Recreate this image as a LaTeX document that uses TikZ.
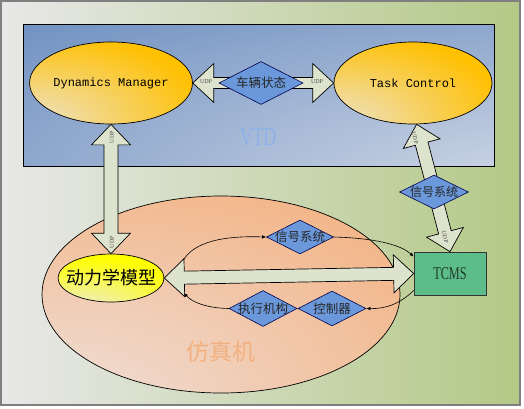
\documentclass[tikz,border=0pt]{standalone}
\usepackage{fontspec}
\setmainfont{Liberation Serif}
\newfontfamily\cjk{Noto Sans CJK SC}
\newfontfamily\monof{Liberation Mono}
\newfontfamily\condf[FakeStretch=0.68]{Liberation Serif}
\usetikzlibrary{shapes.geometric,arrows.meta,calc}
\definecolor{bgL}{HTML}{E8E8E8}
\definecolor{bgR}{HTML}{B3C986}
\definecolor{frameC}{HTML}{7F7F7F}
\definecolor{vtdA}{HTML}{6C8EC0}
\definecolor{vtdB}{HTML}{E6E8EE}
\definecolor{orgA}{HTML}{FFC000}
\definecolor{orgB}{HTML}{EDE3CA}
\definecolor{simA}{HTML}{F4AD78}
\definecolor{simB}{HTML}{EFDDD4}
\definecolor{yelA}{HTML}{FFFF00}
\definecolor{yelB}{HTML}{EEEDC8}
\definecolor{dia}{HTML}{6A98DA}
\definecolor{arr}{HTML}{DEE3CD}
\definecolor{vtdtxt}{HTML}{8CB2EA}
\definecolor{simtxt}{HTML}{F3B07E}
\definecolor{tcmsfill}{HTML}{5CBC8A}
\definecolor{tcmstxt}{HTML}{1E3C28}
\pgfdeclareradialshading{orgrad}{\pgfpoint{-31bp}{-30bp}}{color(0bp)=(orgB); color(6bp)=(orgB); color(48bp)=(orgA); color(120bp)=(orgA)}
\pgfdeclareradialshading{simrad}{\pgfpoint{-28bp}{-34bp}}{color(0bp)=(simB); color(8bp)=(simB); color(62bp)=(simA); color(130bp)=(simA)}
\pgfdeclareradialshading{yelrad}{\pgfpoint{-15bp}{-38bp}}{color(0bp)=(yelB); color(6bp)=(yelB); color(45bp)=(yelA); color(120bp)=(yelA)}
\pgfdeclareradialshading{vtdrad}{\pgfpoint{50bp}{-50bp}}{color(0bp)=(vtdB); color(6bp)=(vtdB); color(75bp)=(vtdA); color(150bp)=(vtdA)}
\newcommand\ctext[1]{\makebox[0pt]{\smash{\raisebox{-0.38em}{#1}}}}
\newcommand\dblArrowShape[6][]{%
  \draw[arrbody,#1] (#2)
   -- ($(#2)!#6!(#3)!#5!90:(#3)$)
   -- ($(#2)!#6!(#3)!#4!90:(#3)$)
   -- ($(#3)!#6!(#2)!#4!-90:(#2)$)
   -- ($(#3)!#6!(#2)!#5!-90:(#2)$)
   -- (#3)
   -- ($(#3)!#6!(#2)!#5!90:(#2)$)
   -- ($(#3)!#6!(#2)!#4!90:(#2)$)
   -- ($(#2)!#6!(#3)!#4!-90:(#3)$)
   -- ($(#2)!#6!(#3)!#5!-90:(#3)$)
   -- cycle;}
\begin{document}
\begin{tikzpicture}[x=1pt,y=-1pt,
  framebox/.style={rectangle, draw=frameC, line width=1.2pt, left color=bgL, right color=bgR,
    minimum width=519pt, minimum height=404pt, inner sep=0pt},
  vtdbox/.style={rectangle, draw=black, line width=0.7pt, shade, shading=vtdrad,
    minimum width=471pt, minimum height=142pt, inner sep=0pt},
  orgell/.style={ellipse, draw=black, line width=0.7pt, shade, shading=orgrad,
    minimum width=158pt, minimum height=82pt,
    inner sep=0pt, font=\monof\fontsize{12}{14}\selectfont},
  simell/.style={ellipse, draw=black, line width=0.7pt, shade, shading=simrad,
    minimum width=358pt, minimum height=197pt, inner sep=0pt},
  yelell/.style={ellipse, draw=black, line width=0.7pt, shade, shading=yelrad,
    minimum width=106pt, minimum height=48pt,
    inner sep=0pt, font=\cjk\fontsize{18}{20}\selectfont},
  tcmsbox/.style={rectangle, draw=black!80, line width=0.7pt, fill=tcmsfill, minimum width=72pt,
    minimum height=43pt, inner sep=0pt, font=\condf\fontsize{18}{20}\selectfont, text=tcmstxt},
  diam/.style={diamond, draw=black!70!blue, line width=0.6pt, fill=dia, inner sep=0pt,
    font=\cjk\fontsize{12.5}{14}\selectfont, text=black!85},
  arrbody/.style={draw=black, line width=0.7pt, fill=arr, line join=miter},
  udp/.style={font=\fontsize{6}{6}\selectfont, text=black!70, inner sep=0pt},
  biglabel/.style={inner sep=0pt},
  link/.style={draw=black, line width=0.6pt, -{Latex[length=4pt,width=3.5pt]}}]
\useasboundingbox (0,0) rectangle (524,408);
% background frame
\node[framebox] (frame) at (260.5,203) {};
% VTD box
\node[vtdbox] (vtd) at (258.5,95) {};
\node[biglabel, font=\condf\fontsize{26}{28}\selectfont, text=vtdtxt] (vtdlabel) at (258,137) {VTD};
% simulator ellipse
\node[simell] (sim) at (221,294.5) {};
\node[biglabel, font=\cjk\fontsize{23}{25}\selectfont, text=simtxt] (simlabel) at (221,352) {仿真机};
% main nodes
\node[orgell] (dm) at (111,83) {Dynamics Manager};
\node[orgell] (tc) at (413,83) {Task Control};
\node[yelell] (dyn) at (111,278) {\ctext{动力学模型}};
\node[tcmsbox] (tcms) at (450,273.5) {TCMS};
% helper coordinates
\coordinate (tcTip) at (tc.-85);
\coordinate (c1) at (184,259);
\coordinate (c4) at (184,293);
% double arrows
\dblArrowShape{dm.east}{tc.west}{5.5pt}{19.5pt}{21pt}
\dblArrowShape{dm.south}{dyn.north}{7pt}{19.5pt}{20.5pt}
\dblArrowShape{tcTip}{tcms.north}{6.5pt}{19pt}{20pt}
\dblArrowShape{dyn.east}{tcms.west}{6.5pt}{19pt}{20pt}
% diamonds
\node[diam, minimum width=84pt, minimum height=43pt] (vs) at (261,83) {\ctext{车辆状态}};
\node[diam, minimum width=69pt, minimum height=34pt, font=\cjk\fontsize{12}{14}\selectfont] (sig1) at (434,192) {\ctext{信号系统}};
\node[diam, minimum width=67pt, minimum height=34pt] (sig2) at (300,237) {\ctext{信号系统}};
\node[diam, minimum width=68pt, minimum height=36pt] (act) at (263,308.5) {\ctext{执行机构}};
\node[diam, minimum width=68pt, minimum height=35pt] (ctl) at (332,308.5) {\ctext{控制器}};
% UDP labels
\node[udp] (u1) at (206,82) {UDP};
\node[udp] (u2) at (317,82) {UDP};
\node[udp, rotate=90] (u3) at (112,137) {UDP};
\node[udp, rotate=90] (u4) at (112,242) {UDP};
\node[udp, rotate=-76] (u5) at (415,138) {UDP};
\node[udp, rotate=-76] (u6) at (445,237) {UDP};
% curved links
\draw[link] (c1) .. controls (198,238) and (235,236) .. (sig2.west);
\draw[link] (sig2.east) .. controls (372,238) and (400,244) .. (tcms.155);
\draw[link] (tcms.205) .. controls (400,304) and (385,309) .. (ctl.east);
\draw[link] (act.west) .. controls (206,308) and (192,302) .. (c4);
\end{tikzpicture}
\end{document}
